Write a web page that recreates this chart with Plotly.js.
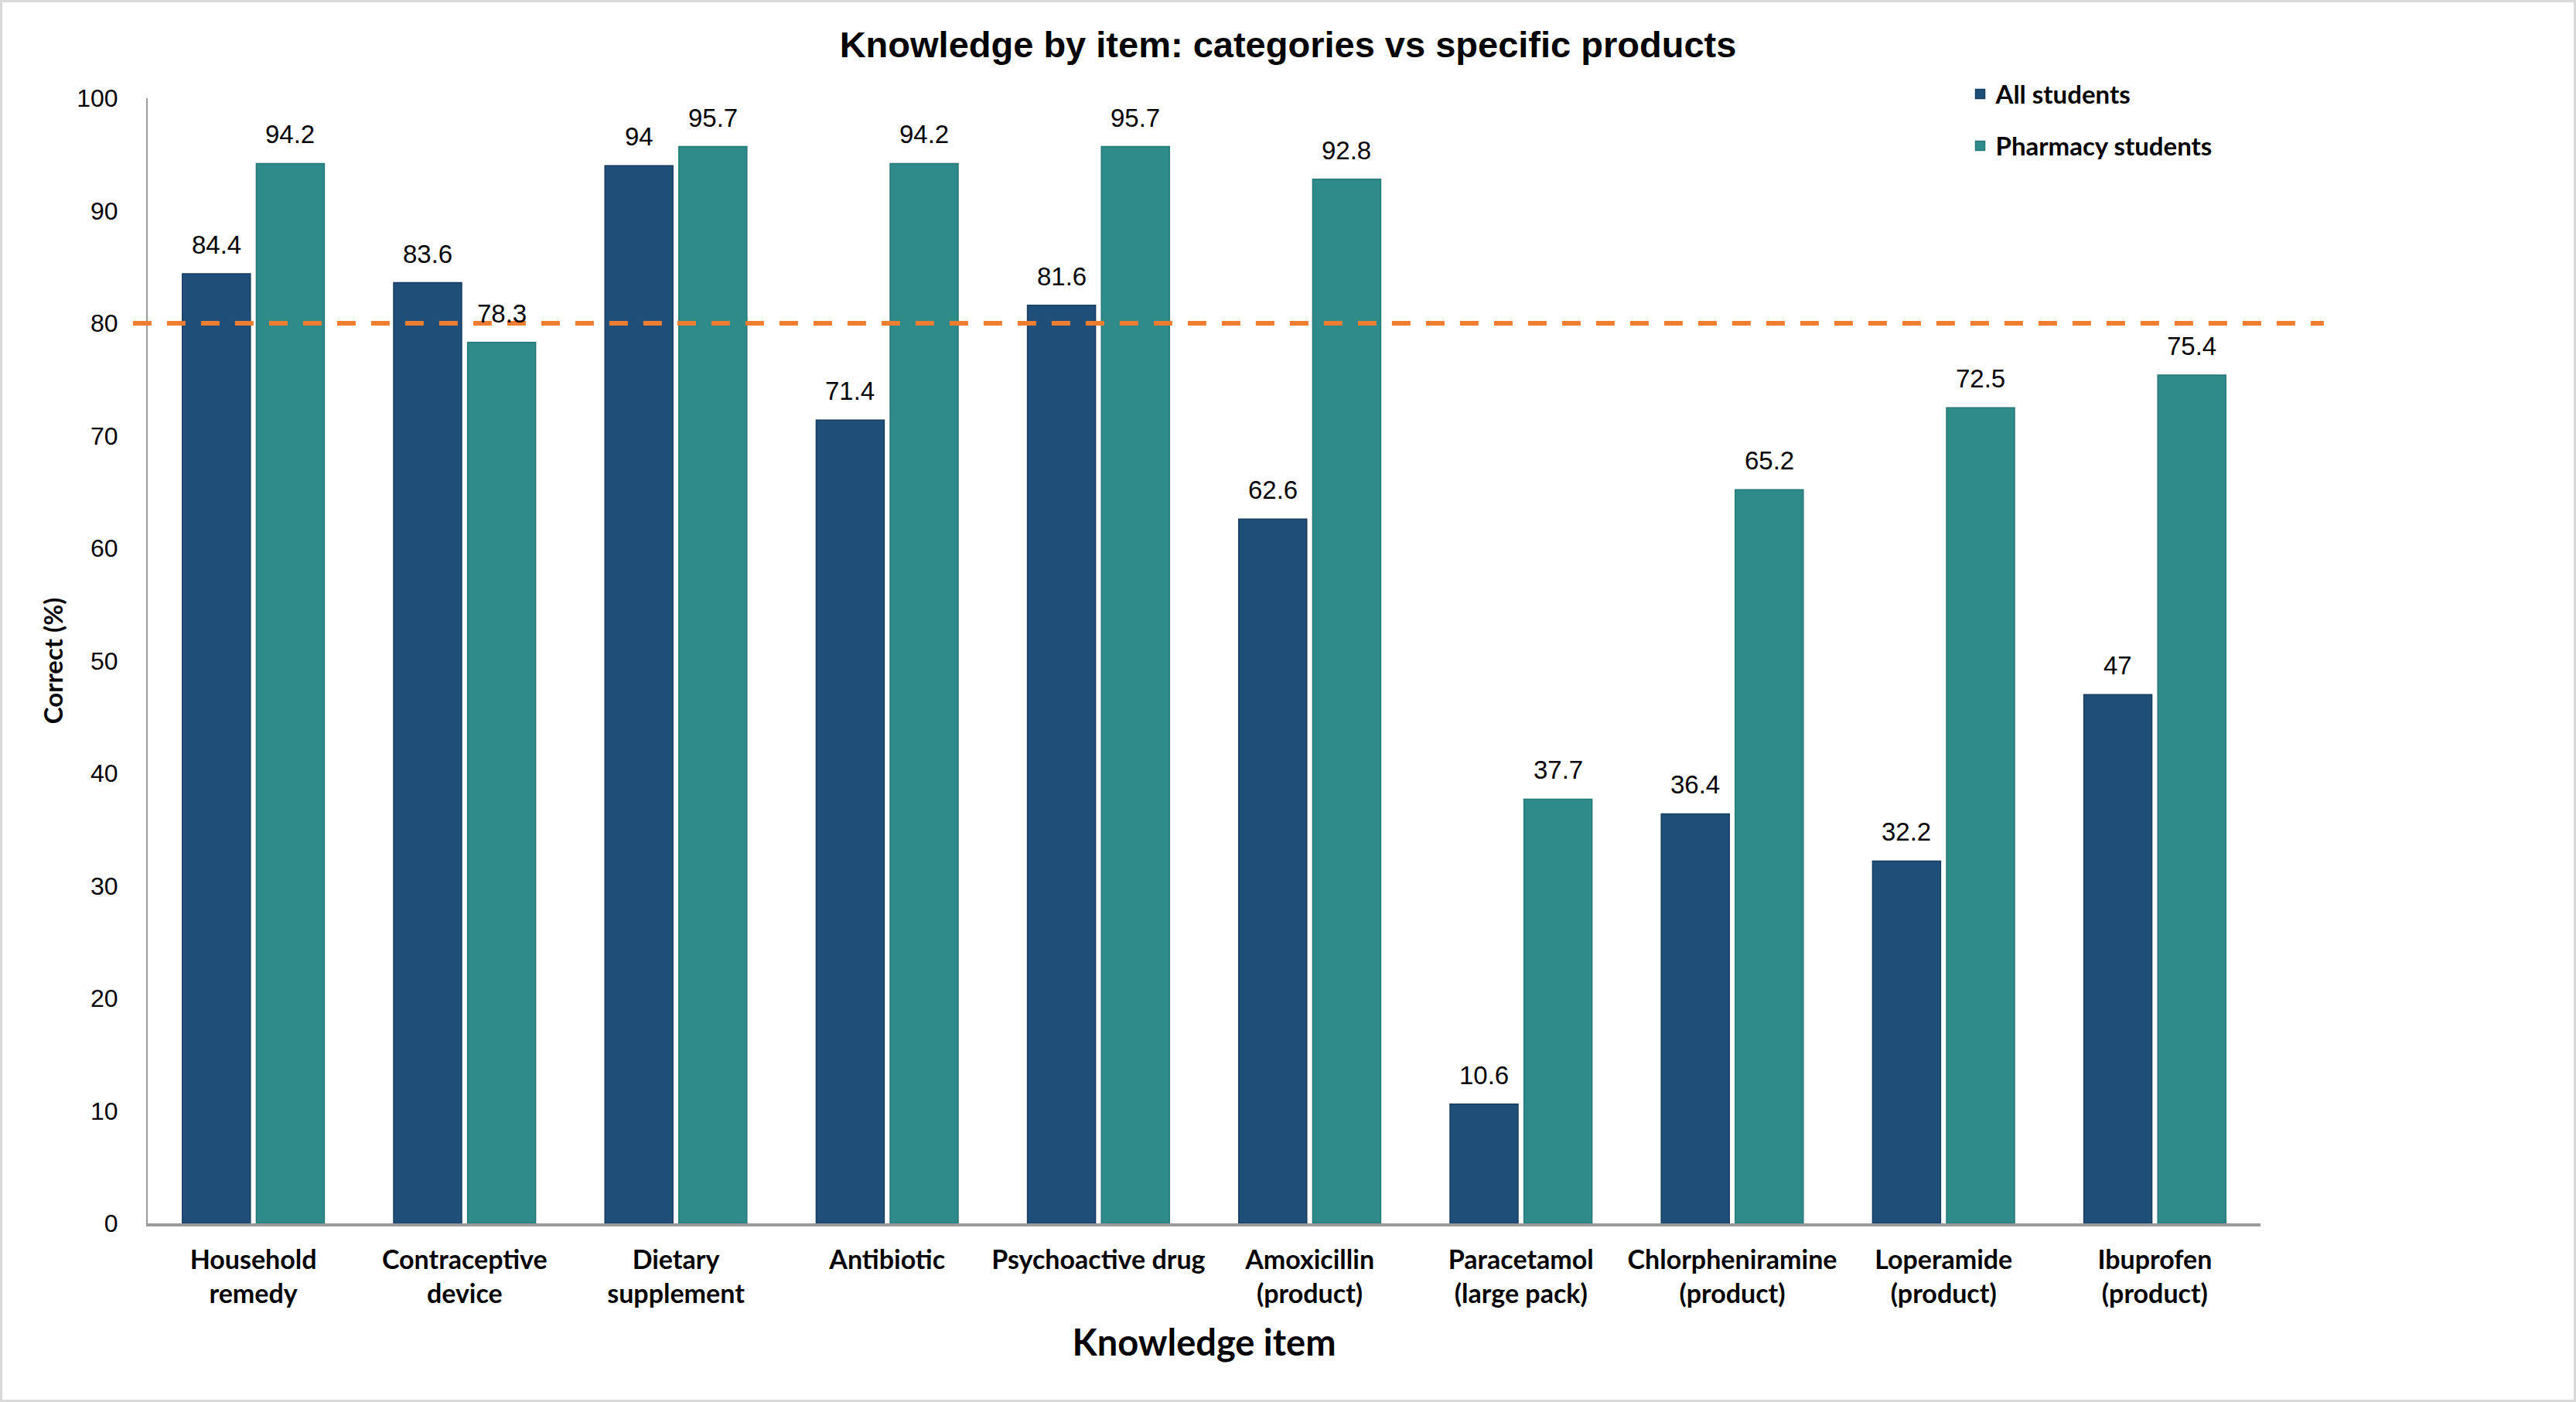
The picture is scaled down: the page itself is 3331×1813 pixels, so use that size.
<!DOCTYPE html>
<html>
<head>
<meta charset="utf-8">
<script src="https://cdn.plot.ly/plotly-3.0.1.min.js"></script>
<style>
    body { margin: 0; background: #fff; }
    #frame { width: 3331px; height: 1813px; box-sizing: border-box; border: 3px solid #d9d9d9; }
    #chart { width: 3325px; height: 1807px; }
</style>
</head>
<body>
<div id="frame"><div id="chart"></div></div>
<script>
// knowledge items (x categories)
const items = [
    'Household<br>remedy',
    'Contraceptive<br>device',
    'Dietary<br>supplement',
    'Antibiotic',
    'Psychoactive drug',
    'Amoxicillin<br>(product)',
    'Paracetamol<br>(large pack)',
    'Chlorpheniramine<br>(product)',
    'Loperamide<br>(product)',
    'Ibuprofen<br>(product)'
];

// % correct
const allStudents = [84.4, 83.6, 94, 71.4, 81.6, 62.6, 10.6, 36.4, 32.2, 47];
const pharmacyStudents = [94.2, 78.3, 95.7, 94.2, 95.7, 92.8, 37.7, 65.2, 72.5, 75.4];

const threshold = 80;

const W = 3325, H = 1807;
const margin = {t: 124, r: 405, b: 228, l: 188};
const bargap = 0.3;

const labelFont = {family: 'Liberation Sans, Arial, sans-serif', size: 33, color: '#000'};

const data = [
    {
        type: 'bar',
        name: 'All students',
        legendgroup: 'a',
        x: items,
        y: allStudents,
        marker: {color: '#1F4E79', line: {color: '#173d60', width: 1.5}}
    },
    {
        type: 'bar',
        name: 'Pharmacy students',
        legendgroup: 'b',
        x: items,
        y: pharmacyStudents,
        marker: {color: '#2E8B8A', line: {color: '#267877', width: 1.5}}
    }
];

// value labels sit a little higher above the bars than plotly's own outside text
const slot = (W - margin.l - margin.r) / items.length * (1 - bargap) / 2;
const annotations = [];
[allStudents, pharmacyStudents].forEach((series, k) => {
    series.forEach((v, i) => {
        annotations.push({
            x: items[i],
            y: v,
            xref: 'x',
            yref: 'y',
            text: String(v),
            showarrow: false,
            xanchor: 'center',
            yanchor: 'bottom',
            xshift: (k === 0 ? -0.5 : 0.5) * slot,
            yshift: 17,
            font: labelFont
        });
    });
});

const layout = {
    width: W,
    height: H,
    paper_bgcolor: '#fff',
    plot_bgcolor: '#fff',
    margin: margin,
    barmode: 'group',
    bargap: bargap,
    bargroupgap: 0.08,
    title: {
        text: '<b>Knowledge by item: categories vs specific products</b>',
        font: {family: 'Liberation Sans, Arial, sans-serif', size: 47, color: '#000'},
        x: 0.5,
        xanchor: 'center',
        y: 0.97,
        yanchor: 'middle'
    },
    showlegend: true,
    legend: {
        x: 0.86,
        y: 1.023,
        xanchor: 'left',
        yanchor: 'top',
        traceorder: 'grouped',
        tracegroupgap: 21,
        font: {family: 'Lato, sans-serif', size: 33, color: '#000', weight: 'bold'},
        bgcolor: 'rgba(0,0,0,0)'
    },
    xaxis: {
        type: 'category',
        showline: true,
        linecolor: '#9a9a9a',
        linewidth: 4,
        ticks: '',
        ticklabelstandoff: 14,
        tickfont: {family: 'Lato, sans-serif', size: 34, color: '#000', weight: 'bold'},
        title: {
            text: '<b>Knowledge item</b>',
            font: {family: 'Lato, sans-serif', size: 47, color: '#000'},
            standoff: 30
        }
    },
    yaxis: {
        range: [0, 100],
        dtick: 10,
        showgrid: false,
        zeroline: false,
        showline: true,
        linecolor: '#9a9a9a',
        linewidth: 2,
        ticks: '',
        ticklabelstandoff: 30,
        tickfont: {family: 'Liberation Sans, Arial, sans-serif', size: 32, color: '#000'},
        title: {
            text: '<b>Correct (%)</b>',
            font: {family: 'Lato, sans-serif', size: 33, color: '#000'},
            standoff: 8
        }
    },
    annotations: annotations,
    shapes: [
        {
            type: 'line',
            xref: 'paper',
            yref: 'y',
            x0: -0.007,
            x1: 1.03,
            y0: threshold,
            y1: threshold,
            line: {color: '#ED7D31', width: 6, dash: '24px,20px'}
        }
    ]
};

const config = {
    responsive: false,
    displaylogo: false,
    displayModeBar: false
};

Plotly.newPlot('chart', data, layout, config);
</script>
</body>
</html>
